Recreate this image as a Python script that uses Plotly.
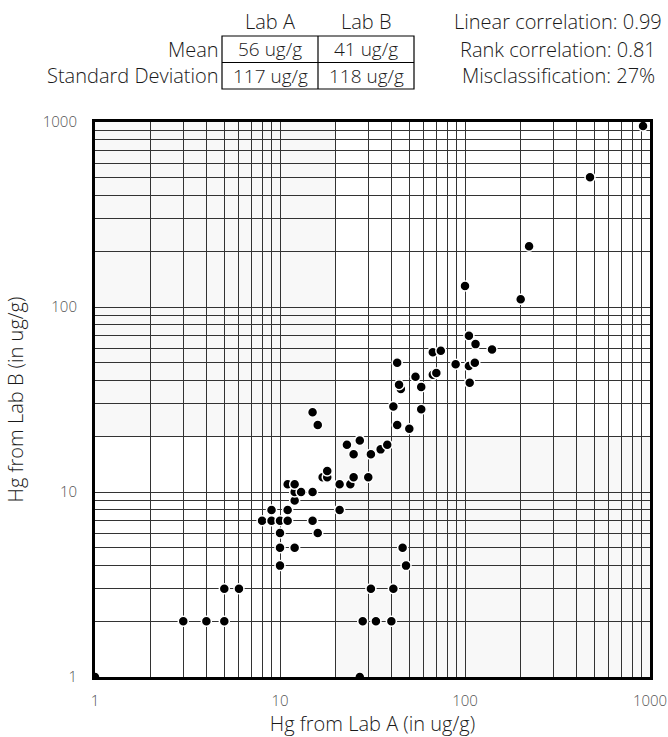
import plotly.graph_objects as go

# ---- data ----
lab_a = [1, 3, 4, 5, 5, 6, 10, 10, 12, 10, 16, 8, 9, 10, 11, 15, 9, 11, 21, 12,
         12, 13, 15, 11, 12, 21, 24, 17, 18, 25, 30, 18, 25, 31, 35, 23, 38, 27,
         50, 16, 43, 15, 58, 41, 45, 58, 44, 106, 54, 67, 70, 105, 89, 43, 113,
         67, 74, 140, 114, 105, 200, 100, 222, 474, 917, 27, 28, 33, 40, 31, 41,
         48, 46]
lab_b = [1, 2, 2, 2, 3, 3, 4, 5, 5, 6, 6, 7, 7, 7, 7, 7, 8, 8, 8, 9,
         10, 10, 10, 11, 11, 11, 11, 12, 12, 12, 12, 13, 16, 16, 17, 18, 18, 19,
         22, 23, 23, 27, 28, 29, 36, 37, 38, 39, 42, 43, 44, 48, 49, 50, 50,
         57, 58, 59, 63, 70, 110, 130, 213, 503, 952, 1, 2, 2, 2, 3, 3,
         4, 5]

threshold = 20
decades = [1, 10, 100, 1000]
tick_labels = ["1", "10", "100", "1000"]

table_cols = ["Lab A", "Lab B"]
table_rows = ["Mean", "Standard Deviation"]
mean_vals = ["56 ug/g", "41 ug/g"]
sd_vals = ["117 ug/g", "118 ug/g"]
stat_lines = ["Linear correlation: 0.99", "Rank correlation: 0.81",
              "Misclassification: 27%"]

x_title = "Hg from Lab A (in ug/g)"
y_title = "Hg from Lab B (in ug/g)"

# ---- layout helpers ----
W, H = 668, 737
ML, MR, MT, MB = 95, 18, 122, 60
PW, PH = W - ML - MR, H - MT - MB
FONT = "Open Sans"
WEIGHT = 300
INK = "#1a1a1a"


def px(xp):
    return (xp - ML) / PW


def py(yp):
    return (H - MB - yp) / PH


grid_vals = sorted(set(m * d for d in decades[:-1] for m in range(1, 10)) | {decades[-1]})
label_map = dict(zip(decades, tick_labels))
grid_text = [label_map.get(v, "") for v in grid_vals]

fig = go.Figure()
fig.add_trace(go.Scatter(
    x=lab_a, y=lab_b, mode="markers",
    marker=dict(size=10, color="black", line=dict(color="white", width=1.5)),
    showlegend=False, hoverinfo="x+y"))

# misclassification quadrants
shade = "#f8f8f8"
fig.add_shape(type="rect", xref="x", yref="y", x0=decades[0], x1=threshold,
              y0=threshold, y1=decades[-1], fillcolor=shade, line_width=0, layer="below")
fig.add_shape(type="rect", xref="x", yref="y", x0=threshold, x1=decades[-1],
              y0=decades[0], y1=threshold, fillcolor=shade, line_width=0, layer="below")

axis_common = dict(type="log", range=[0, 3], tickvals=grid_vals, ticktext=grid_text,
                   showgrid=True, gridcolor="#333333", gridwidth=1,
                   showline=True, mirror=True, linecolor="black", linewidth=3,
                   ticks="outside", tickcolor="rgba(0,0,0,0)",
                   tickfont=dict(family=FONT, size=15, color="#555555", weight=WEIGHT),
                   zeroline=False, automargin=False)
fig.update_xaxes(**axis_common, ticklen=8,
                 title=dict(text=x_title, font=dict(family=FONT, size=20, color=INK, weight=WEIGHT), standoff=0))
fig.update_yaxes(**axis_common, ticklen=12,
                 title=dict(text=y_title, font=dict(family=FONT, size=20, color=INK, weight=WEIGHT), standoff=14))

ann = []
lab_font = dict(family=FONT, size=20, color=INK, weight=WEIGHT)
val_font = dict(family=FONT, size=19, color=INK, weight=WEIGHT)
head_y = 21
row_y = [49, 76]
col_x = [270, 366]
# headers
for cx, t in zip(col_x, table_cols):
    ann.append(dict(x=px(cx), y=py(head_y), text=t, xanchor="center", yanchor="middle", font=lab_font))
for ry, t in zip(row_y, table_rows):
    ann.append(dict(x=px(220), y=py(ry), text=t, xanchor="right", yanchor="middle", font=lab_font))
for cx, t in zip(col_x, mean_vals):
    ann.append(dict(x=px(cx), y=py(row_y[0]), text=t, xanchor="center", yanchor="middle", font=val_font))
for cx, t in zip(col_x, sd_vals):
    ann.append(dict(x=px(cx), y=py(row_y[1]), text=t, xanchor="center", yanchor="middle", font=val_font))
for ry, t in zip([head_y] + row_y, stat_lines):
    ann.append(dict(x=px(558), y=py(ry), text=t, xanchor="center", yanchor="middle", font=lab_font))
for a in ann:
    a.update(xref="paper", yref="paper", showarrow=False, borderpad=0)

# table box
bl, bm, br = 222, 318, 414
bt, bmid, bb = 36, 62.5, 89
line = dict(color="black", width=1.2)
fig.add_shape(type="rect", xref="paper", yref="paper", x0=px(bl), x1=px(br),
              y0=py(bb), y1=py(bt), line=line)
fig.add_shape(type="line", xref="paper", yref="paper", x0=px(bm), x1=px(bm),
              y0=py(bb), y1=py(bt), line=line)
fig.add_shape(type="line", xref="paper", yref="paper", x0=px(bl), x1=px(br),
              y0=py(bmid), y1=py(bmid), line=line)

fig.update_layout(width=W, height=H, margin=dict(l=ML, r=MR, t=MT, b=MB, autoexpand=False),
                  paper_bgcolor="white", plot_bgcolor="white",
                  font=dict(family=FONT), annotations=ann)

fig.write_html("out.html", config={"displayModeBar": False},
               post_script="document.body.style.margin='0px';document.body.style.overflow='hidden';")
